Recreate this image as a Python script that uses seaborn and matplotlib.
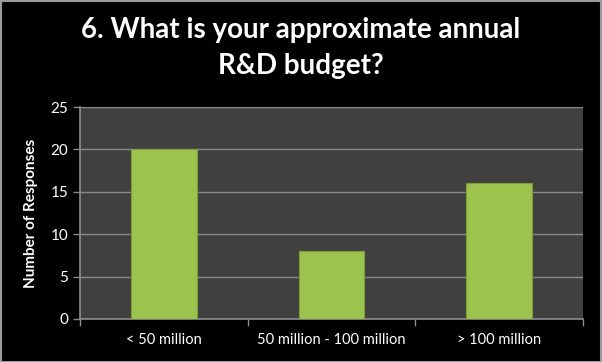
import matplotlib
matplotlib.use("Agg")
import matplotlib.pyplot as plt
import seaborn as sns
import pandas as pd

categories = ["< 50 million", "50 million - 100 million", "> 100 million"]
responses = [20, 8, 16]
y_ticks = [0, 5, 10, 15, 20, 25]

sns.set_theme(style="dark")
plt.rcParams['font.family'] = ['Lato', 'DejaVu Sans']

df = pd.DataFrame({"budget": categories, "count": responses})

fig = plt.figure(figsize=(6.02, 3.62), dpi=100, facecolor="black")
ax = fig.add_axes([0.1329, 0.1188, 0.8355, 0.5856])
ax.set_facecolor("#404040")

sns.barplot(data=df, x="budget", y="count", color="#9cc44c", width=0.39,
            edgecolor="#7c9c38", linewidth=0.8, saturation=1, ax=ax, zorder=3)

ax.set_ylim(0, 25)
ax.set_yticks(y_ticks)
ax.set_xlim(-0.5, 2.5)
ax.yaxis.grid(True, color="#8a8a8a", linewidth=1)
ax.set_axisbelow(True)

# category separator ticks
ax.set_xticks([-0.5, 0.5, 1.5, 2.5], minor=True)
ax.tick_params(axis="x", which="minor", length=5, color="#8a8a8a", width=1, bottom=True)
ax.tick_params(axis="x", which="major", length=0, colors="white", labelsize=10.5, pad=10)
ax.tick_params(axis="y", length=5, color="#8a8a8a", width=1, colors="white", labelsize=11, left=True)

for side in ["top", "right"]:
    ax.spines[side].set_visible(False)
for side in ["left", "bottom"]:
    ax.spines[side].set_color("#8a8a8a")

ax.set_xlabel("")
ax.set_ylabel("Number of Responses", color="white", fontsize=11, fontweight="bold", labelpad=9)

fig.text(0.5, 0.868, "6. What is your approximate annual\nR&D budget?", color="white",
         fontsize=20, fontweight="bold", ha="center", va="center", linespacing=1.45)

border = plt.Rectangle((0.001, 0.001), 0.997, 0.996, transform=fig.transFigure,
                       fill=False, edgecolor="#9a9a9a", linewidth=1.5)
fig.patches.append(border)

fig.savefig("out.png", dpi=100, facecolor="black")
